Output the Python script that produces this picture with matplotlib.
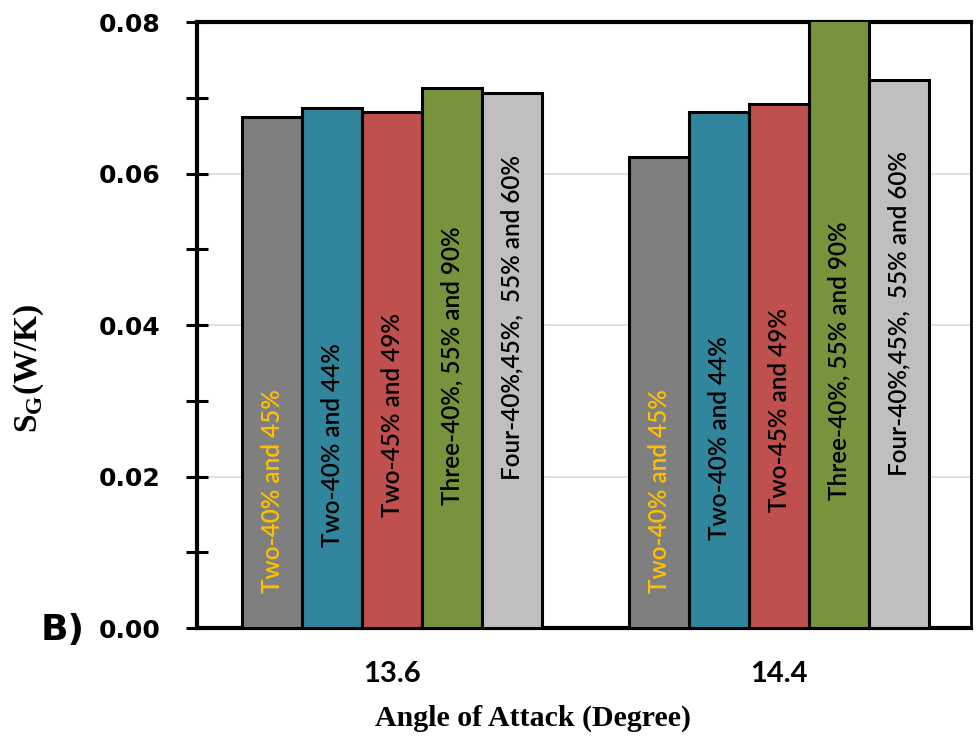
import matplotlib
matplotlib.use("Agg")
import matplotlib.pyplot as plt
import numpy as np
from matplotlib.ticker import MultipleLocator, FormatStrFormatter

categories = ["13.6", "14.4"]
series_names = ["Two-40% and 45%", "Two-40% and 44%", "Two-45% and 49%",
                "Three-40%, 55% and 90%", "Four-40%,45%,  55% and 60%"]
values = {
    "Two-40% and 45%": [0.0675, 0.0622],
    "Two-40% and 44%": [0.0686, 0.0682],
    "Two-45% and 49%": [0.0682, 0.0692],
    "Three-40%, 55% and 90%": [0.0713, 0.0815],
    "Four-40%,45%,  55% and 60%": [0.0707, 0.0723],
}
colors = ["#7F7F7F", "#31859C", "#C0504D", "#77933C", "#BFBFBF"]
label_colors = ["#FFC000", "black", "black", "black", "black"]
# start height of the vertical in-bar labels (layout)
label_starts = [[0.0046, 0.0046], [0.0107, 0.0116], [0.0147, 0.0153],
                [0.0162, 0.0169], [0.0195, 0.0201]]

fig = plt.figure(figsize=(9.77, 7.38), dpi=100)
ax = fig.add_axes([0.2016, 0.149, 0.7923, 0.821])

x = np.arange(len(categories))
w = 0.155
n = len(series_names)
for i, name in enumerate(series_names):
    xs = x + (i - (n - 1) / 2) * w
    ax.bar(xs, values[name], width=w, color=colors[i], edgecolor="black",
           linewidth=2.2, zorder=3)
    for j, xx in enumerate(xs):
        ax.text(xx, label_starts[i][j], name, rotation=90, ha="center", va="bottom",
                color=label_colors[i], fontsize=17.5, family="Lato",
                fontweight="semibold", zorder=4)

ax.set_xlim(-0.504, 1.496)
ax.set_ylim(0, 0.08)
ax.yaxis.set_major_locator(MultipleLocator(0.02))
ax.yaxis.set_minor_locator(MultipleLocator(0.01))
ax.yaxis.set_major_formatter(FormatStrFormatter("%.2f"))
ax.grid(axis="y", which="major", color="#D9D9D9", linewidth=1.2, zorder=0)
ax.set_xticks(x)
ax.set_xticklabels(categories, fontsize=21, fontweight="bold", family="Lato")
ax.tick_params(axis="x", length=0, pad=24)
ax.tick_params(axis="y", which="both", direction="inout", length=16, width=2.2,
               pad=18)
for lab in ax.get_yticklabels():
    lab.set_fontsize(18)
    lab.set_fontweight("bold")
    lab.set_family("DejaVu Sans")

for s in ["left", "top", "bottom"]:
    ax.spines[s].set_linewidth(3)
ax.spines["right"].set_linewidth(2)

fig.text(0.5455, 0.027, "Angle of Attack (Degree)", ha="center", va="center",
         fontsize=21.5, fontweight="bold", family="Liberation Serif")
fig.text(0.029, 0.501, r"S$_\mathregular{G}$(W/K)", rotation=90, ha="center",
         va="center", fontsize=24, fontweight="bold", family="Liberation Serif")
fig.text(0.0645, 0.147, "B)", ha="center", va="center", fontsize=26,
         fontweight="bold", family="DejaVu Sans")

fig.savefig("out.png", dpi=100)
